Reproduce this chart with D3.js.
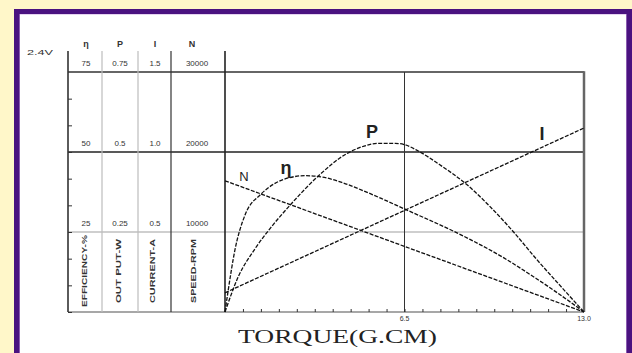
<!DOCTYPE html>
<html>
<head>
<meta charset="utf-8">
<script src="https://cdn.jsdelivr.net/npm/d3@7"></script>
<style>
  body { margin: 0; background: #fff7c9; }
  svg { display: block; }
</style>
</head>
<body>
<script>
// motor characteristic curves
var effPts = [[0,0],[0.12,7],[0.36,19.4],[0.72,30.2],[1.3,36.8],[1.81,40.2],[2.3,41.9],[2.9,42.6],
  [3.5,42.2],[4.23,40.5],[4.95,38.1],[5.68,35.4],[6.5,32.2],[8.31,25.1],[8.87,22.7],[10.1,16.9],
  [11.28,10.4],[11.9,6.8],[13,0]];
var outPts = [[0,0],[0.48,0.11],[1.09,0.198],[1.69,0.267],[2.42,0.34],[3.38,0.425],[4.41,0.495],
  [4.95,0.516],[5.56,0.527],[6.16,0.527],[6.5,0.523],[7.0,0.503],[7.78,0.46],[8.8,0.395],[9.59,0.33],
  [10.45,0.25],[11.28,0.165],[12.13,0.083],[13,0]];
var curPts = [[0,0.12],[13,1.15]];
var speedPts = [[0,16400],[13,0]];

var effTicks = [75, 50, 25];
var outTicks = ["0.75", "0.5", "0.25"];
var curTicks = ["1.5", "1.0", "0.5"];
var speedTicks = ["30000", "20000", "10000"];
var headers = ["η", "P", "I", "N"];
var colTitles = ["EFFICIENCY-%", "OUT PUT-W", "CURRENT-A", "SPEED-RPM"];

var W = 632, H = 353;
var svg = d3.select("body").append("svg").attr("width", W).attr("height", H);

// purple frame
svg.append("rect").attr("x", 14).attr("y", 9).attr("width", 640).attr("height", 400).attr("fill", "#4a1280");
svg.append("rect").attr("x", 19.5).attr("y", 14).attr("width", 607).attr("height", 400).attr("fill", "#c9a6e0");
svg.append("rect").attr("x", 20).attr("y", 14.5).attr("width", 606).attr("height", 400).attr("fill", "#ffffff");

var x = d3.scaleLinear().domain([0, 13]).range([225, 584]);
var yEff = d3.scaleLinear().domain([0, 75]).range([312, 72]);
var yOut = d3.scaleLinear().domain([0, 0.75]).range([312, 72]);
var yCur = d3.scaleLinear().domain([0, 1.5]).range([312, 72]);
var ySpeed = d3.scaleLinear().domain([0, 30000]).range([312, 72]);

var cols = [68, 102, 138, 171, 225];
var x0 = cols[0], x1 = x(13);

// horizontal grid lines
svg.append("line").attr("x1", x0).attr("x2", x1).attr("y1", yEff(25)).attr("y2", yEff(25))
  .attr("stroke", "#cfcfcf").attr("stroke-width", 2);
svg.append("line").attr("x1", x0).attr("x2", x1).attr("y1", yEff(0)).attr("y2", yEff(0))
  .attr("stroke", "#8a8a8a").attr("stroke-width", 1.5);
svg.append("line").attr("x1", x0).attr("x2", x1).attr("y1", yEff(50)).attr("y2", yEff(50))
  .attr("stroke", "#222").attr("stroke-width", 1.3);
svg.append("line").attr("x1", x0).attr("x2", x1).attr("y1", yEff(75)).attr("y2", yEff(75))
  .attr("stroke", "#333").attr("stroke-width", 1.6);

// table column lines
var colStroke = ["#333", "#bdbdbd", "#bdbdbd", "#333", "#222"];
cols.forEach(function(c, i){
  svg.append("line").attr("x1", c).attr("x2", c).attr("y1", 51).attr("y2", yEff(0))
    .attr("stroke", colStroke[i]).attr("stroke-width", i == 0 || i == 4 ? 1.6 : 1.2);
});
svg.append("line").attr("x1", x(6.5)).attr("x2", x(6.5)).attr("y1", yEff(75)).attr("y2", yEff(0))
  .attr("stroke", "#333").attr("stroke-width", 1);
svg.append("line").attr("x1", x1).attr("x2", x1).attr("y1", yEff(75) - 0.8).attr("y2", yEff(0))
  .attr("stroke", "#666").attr("stroke-width", 2.5);

// minor ticks on the left table edge
svg.append("g").attr("transform", "translate(" + x0 + ",0)")
  .call(d3.axisRight(yEff).tickValues(d3.range(0, 75, 25 / 3)).tickSize(4).tickFormat(""))
  .call(function(g){ g.select(".domain").remove(); g.selectAll("line").attr("stroke", "#333"); });

// torque ticks
svg.append("g").attr("transform", "translate(0," + yEff(0) + ")")
  .call(d3.axisTop(x).tickValues(d3.range(0.65, 12.99, 0.65)).tickSize(3).tickFormat(""))
  .call(function(g){ g.select(".domain").remove(); g.selectAll("line").attr("stroke", "#333"); });
svg.selectAll(".xlab").data([6.5, 13]).enter().append("text")
  .attr("x", function(d){ return x(d); }).attr("y", 321)
  .attr("text-anchor", "middle").attr("font-family", "Liberation Sans, Arial").attr("font-size", 7)
  .attr("fill", "#333").text(function(d){ return d.toFixed(1); });

svg.append("text").attr("x", 238).attr("y", 343).attr("textLength", 199).attr("lengthAdjust", "spacingAndGlyphs")
  .attr("font-family", "Liberation Serif, Times New Roman").attr("font-size", 19).attr("fill", "#222")
  .text("TORQUE(G.CM)");

// table text
var centers = [86, 120, 155, 197];
var tickCols = [effTicks, outTicks, curTicks, speedTicks];
var tickVals = [75, 50, 25];
tickCols.forEach(function(arr, i){
  svg.selectAll(".tk" + i).data(arr).enter().append("text")
    .attr("x", centers[i]).attr("y", function(d, j){ return yEff(tickVals[j]) - 6; })
    .attr("text-anchor", "middle").attr("font-family", "Liberation Sans, Arial").attr("font-size", 8)
    .attr("fill", "#333").text(function(d){ return d; });
});
var headX = [86, 120, 155, 192];
svg.selectAll(".hd").data(headers).enter().append("text")
  .attr("x", function(d, i){ return headX[i]; }).attr("y", 47)
  .attr("text-anchor", "middle").attr("font-family", "Liberation Sans, Arial").attr("font-size", 9)
  .attr("font-weight", "bold").attr("fill", "#333").text(function(d){ return d; });
svg.append("text").attr("x", 27).attr("y", 55).attr("font-family", "Liberation Sans, Arial")
  .attr("font-size", 8).attr("textLength", 26).attr("lengthAdjust", "spacingAndGlyphs")
  .attr("fill", "#333").text("2.4V");

var titleX = [84, 118, 152, 193];
svg.selectAll(".ct").data(colTitles).enter().append("text")
  .attr("transform", function(d, i){ return "translate(" + (titleX[i] + 3) + ",271) rotate(-90)"; })
  .attr("text-anchor", "middle").attr("font-family", "Liberation Sans, Arial").attr("font-size", 8)
  .attr("font-weight", "bold").attr("fill", "#333")
  .attr("textLength", function(d, i){ return i == 0 ? 72 : 64; }).attr("lengthAdjust", "spacingAndGlyphs")
  .text(function(d){ return d; });

// curves
function drawCurve(pts, ys, curve){
  var line = d3.line().x(function(d){ return x(d[0]); }).y(function(d){ return ys(d[1]); }).curve(curve);
  svg.append("path").attr("d", line(pts)).attr("fill", "none")
    .attr("stroke", "#111").attr("stroke-width", 1.3).attr("stroke-dasharray", "4,1.5");
}
drawCurve(effPts, yEff, d3.curveMonotoneX);
drawCurve(outPts, yOut, d3.curveMonotoneX);
drawCurve(curPts, yCur, d3.curveLinear);
drawCurve(speedPts, ySpeed, d3.curveLinear);

// curve labels
var labels = [["N", 244, 181, 13, "normal"], ["η", 286, 174, 18, "bold"], ["P", 372, 138, 18, "bold"], ["I", 542, 140, 18, "bold"]];
svg.selectAll(".cl").data(labels).enter().append("text")
  .attr("x", function(d){ return d[1]; }).attr("y", function(d){ return d[2]; })
  .attr("text-anchor", "middle").attr("font-family", "Liberation Sans, Arial")
  .attr("font-size", function(d){ return d[3]; }).attr("font-weight", function(d){ return d[4]; })
  .attr("fill", "#222").text(function(d){ return d[0]; });
</script>
</body>
</html>
